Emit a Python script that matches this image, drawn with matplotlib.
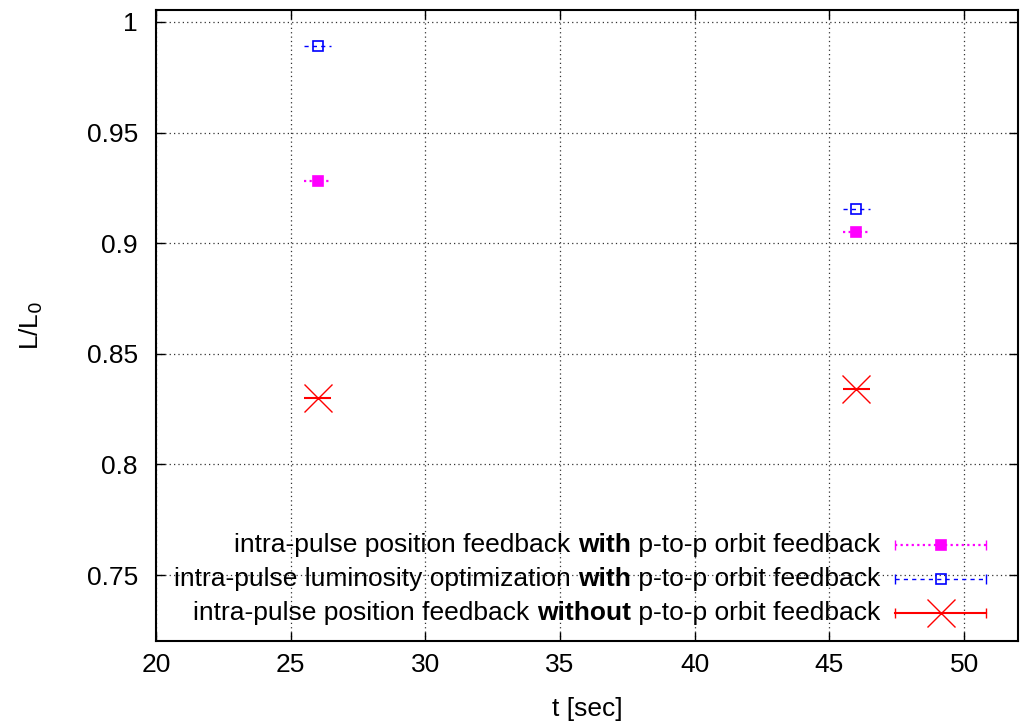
import matplotlib
matplotlib.use("Agg")
import matplotlib.pyplot as plt

plt.rcParams['font.family'] = ['Liberation Sans', 'DejaVu Sans']

# Data
t = [26, 46]
lum_pos_with = [0.928, 0.905]      # magenta filled squares
lum_opt_with = [0.989, 0.9155]     # blue open squares
lum_pos_without = [0.830, 0.834]   # red crosses
t_err = [0.5, 0.5]

labels = [
    ("intra-pulse position feedback ", "with", " p-to-p orbit feedback"),
    ("intra-pulse luminosity optimization ", "with", " p-to-p orbit feedback"),
    ("intra-pulse position feedback ", "without", " p-to-p orbit feedback"),
]

xticks = [20, 25, 30, 35, 40, 45, 50]
yticks = [0.75, 0.8, 0.85, 0.9, 0.95, 1.0]
yticklabels = ["0.75", "0.8", "0.85", "0.9", "0.95", "1"]

FS = 19

fig = plt.figure(figsize=(10.25, 7.22), dpi=100)
W, H = 1025, 722
ax = fig.add_axes([156 / W, 1 - 641 / H, (1018 - 156) / W, (641 - 10) / H])

ax.set_xlim(20, 52)
ax.set_ylim(0.7202, 1.0054)

styles = [
    dict(y=lum_pos_with, color='magenta', ls=(0, (1, 1.5)), lw=1.6, marker='s', mfc='magenta', ms=7.5),
    dict(y=lum_opt_with, color='blue', ls=(0, (3, 3)), lw=1.0, marker='s', mfc='none', ms=7.5),
    dict(y=lum_pos_without, color='red', ls='-', lw=1.5, marker='x', mfc='red', ms=20),
]

for s in styles:
    eb = ax.errorbar(t, s['y'], xerr=t_err, fmt='none', ecolor=s['color'], elinewidth=s['lw'], capsize=0, zorder=3)
    for lc in eb.lines[2]:
        lc.set_linestyle(s['ls'])
    ax.plot(t, s['y'], linestyle='none', marker=s['marker'], color=s['color'], mfc=s['mfc'],
            mec=s['color'], ms=s['ms'], mew=1.2 if s['marker'] == 's' else 1.0, zorder=4)

# Legend (gnuplot style, right-aligned text)
leg_y = [0.152, 0.098, 0.044]
x_text, x0, x1, xm = 0.840, 0.857, 0.963, 0.911
fig.canvas.draw()
r = fig.canvas.get_renderer()
for (pre, bold, post), s, yy in zip(labels, styles, leg_y):
    t3 = ax.text(x_text, yy, post, transform=ax.transAxes, ha='right', va='center', fontsize=FS)
    bb = t3.get_window_extent(r)
    xa = ax.transAxes.inverted().transform((bb.x0, bb.y0))[0]
    t2 = ax.text(xa, yy, bold, transform=ax.transAxes, ha='right', va='center', fontsize=FS, fontweight='bold')
    bb = t2.get_window_extent(r)
    xa = ax.transAxes.inverted().transform((bb.x0, bb.y0))[0]
    ax.text(xa, yy, pre, transform=ax.transAxes, ha='right', va='center', fontsize=FS)
    ax.plot([x0, x1], [yy, yy], transform=ax.transAxes, color=s['color'], ls=s['ls'], lw=s['lw'], clip_on=False)
    ax.plot([x0, x1], [yy, yy], transform=ax.transAxes, color=s['color'], ls='none', marker='|', ms=7, mew=1.0, clip_on=False)
    ax.plot([xm], [yy], transform=ax.transAxes, color=s['color'], ls='none', marker=s['marker'], mfc=s['mfc'],
            mec=s['color'], ms=s['ms'], mew=1.2 if s['marker'] == 's' else 1.0, clip_on=False)

ax.set_xticks(xticks)
ax.set_yticks(yticks)
ax.set_yticklabels(yticklabels)
ax.tick_params(direction='in', length=6.5, width=1, top=True, right=True, labelsize=FS)
ax.tick_params(axis='y', pad=13)
ax.tick_params(axis='x', pad=9)
ax.grid(True, color='0.2', linestyle=(0, (1, 2.5)), linewidth=0.9)
for sp in ax.spines.values():
    sp.set_linewidth(1.5)

ax.set_xlabel("t [sec]", fontsize=FS, labelpad=14)
ax.set_ylabel("L/L$_0$", fontsize=FS, labelpad=30)

fig.savefig("out.png", dpi=100)
